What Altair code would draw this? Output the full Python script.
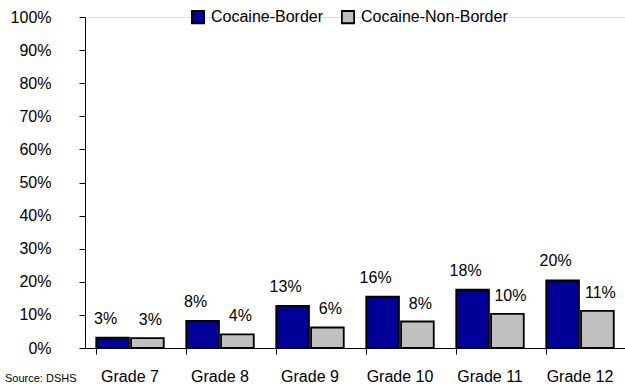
import altair as alt
import pandas as pd

grades = ["Grade 7", "Grade 8", "Grade 9", "Grade 10", "Grade 11", "Grade 12"]
series = ["Cocaine-Border", "Cocaine-Non-Border"]
border = [3.1, 8.2, 12.7, 15.5, 17.6, 20.4]
non_border = [3.0, 4.1, 6.2, 8.0, 10.3, 11.2]
border_labels = ["3%", "8%", "13%", "16%", "18%", "20%"]
non_border_labels = ["3%", "4%", "6%", "8%", "10%", "11%"]
colors = ["#000099", "#C0C0C0"]
source_note = ["Source: DSHS"]
y_ticks = [0, 10, 20, 30, 40, 50, 60, 70, 80, 90, 100]

rows = []
for i, g in enumerate(grades):
    rows.append({"grade": g, "series": series[0], "value": border[i], "label": border_labels[i]})
    rows.append({"grade": g, "series": series[1], "value": non_border[i], "label": non_border_labels[i]})
df = pd.DataFrame(rows)

FONT = "Liberation Sans"

x_enc = alt.X("grade:N", sort=grades, title=None,
              scale=alt.Scale(paddingInner=0.25, paddingOuter=0.125),
              axis=alt.Axis(labelAngle=0, labelFontSize=16, labelFont=FONT, labelColor="#000",
                            bandPosition=0, tickSize=6, tickColor="#000", domainColor="#000",
                            labelPadding=14, grid=False))
xoff = alt.XOffset("series:N", sort=series, scale=alt.Scale(paddingInner=0.06))
y_enc = alt.Y("value:Q", title=None,
              scale=alt.Scale(domain=[0, 100]),
              axis=alt.Axis(values=y_ticks, labelExpr="datum.value + '%'",
                            labelFontSize=16, labelFont=FONT, labelColor="#000",
                            labelOverlap=False, labelFlush=False,
                            tickSize=6, tickColor="#000", domainColor="#000",
                            labelPadding=28, grid=False))

base = alt.Chart(df)

bars = base.mark_bar(stroke="#000", strokeWidth=1.8).encode(
    x=x_enc, xOffset=xoff, y=y_enc,
    color=alt.Color("series:N", sort=series, title=None,
                    scale=alt.Scale(domain=series, range=colors),
                    legend=alt.Legend(orient="none", legendX=105, legendY=-8, direction="horizontal",
                                      symbolType="square", symbolSize=150, symbolStrokeColor="#000",
                                      symbolStrokeWidth=1.8, labelFontSize=16, labelFont=FONT,
                                      labelColor="#000", columnPadding=14, symbolOffset=0, labelOffset=5)),
)

text_b = base.transform_filter(alt.datum.series == series[0]).mark_text(
    fontSize=16, font=FONT, color="#000", dy=-19, dx=-7, baseline="middle").encode(
    x=x_enc, xOffset=xoff, y=y_enc, text="label:N")
text_n = base.transform_filter(alt.datum.series == series[1]).mark_text(
    fontSize=16, font=FONT, color="#000", dy=-18, dx=3, baseline="middle").encode(
    x=x_enc, xOffset=xoff, y=y_enc, text="label:N")

src = alt.Chart(pd.DataFrame({"t": source_note})).mark_text(
    fontSize=11, font=FONT, color="#000", align="left", baseline="middle").encode(
    text="t:N", x=alt.value(-80), y=alt.value(362))

chart = alt.layer(bars, text_b, text_n, src).properties(
    width=540, height=331,
    autosize=alt.AutoSizeParams(type="none"),
    padding={"left": 85, "top": 17, "right": 0, "bottom": 40},
).configure_view(stroke=None).configure(background="white")

chart.save("out.html", embed_options={"renderer": "svg", "actions": False})
